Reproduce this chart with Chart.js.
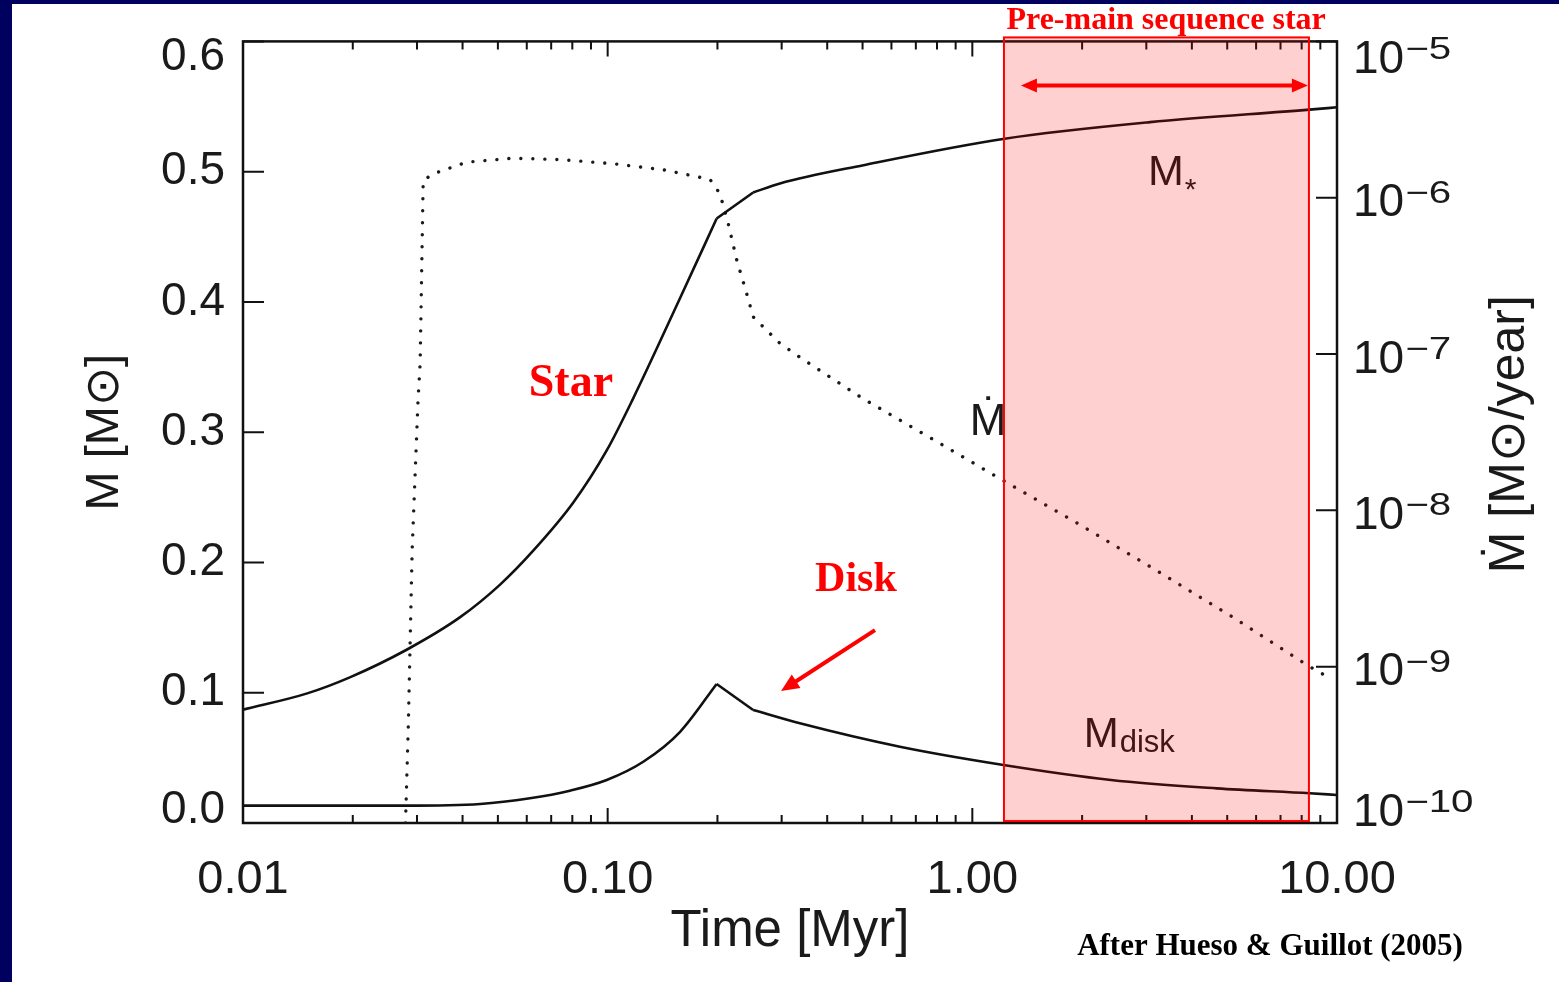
<!DOCTYPE html>
<html>
<head>
<meta charset="utf-8">
<script src="https://cdn.jsdelivr.net/npm/chart.js@4/dist/chart.umd.min.js"></script>
<style>
  html, body { margin: 0; padding: 0; background: #00005e; overflow: hidden; }
  #frame { position: absolute; left: 12px; top: 4px; width: 1547px; height: 978px; background: #fff; }
  canvas { display: block; }
</style>
</head>
<body>
<div id="frame"><canvas id="chart" width="1547" height="978"></canvas></div>
<script>
// ---- data (Hueso & Guillot 2005) ----
const starTime = [0.01, 0.015, 0.0197, 0.0281, 0.0394, 0.0507, 0.0625, 0.0805, 0.0994, 0.1175, 0.158, 0.199, 0.2506, 0.2968, 0.503, 1.226, 3.07, 8.4, 10];
const starMass = [0.087, 0.0995, 0.112, 0.133, 0.158, 0.183, 0.209, 0.246, 0.286, 0.326, 0.403, 0.464, 0.484, 0.491, 0.505, 0.5253, 0.538, 0.5476, 0.5494];

const diskTime = [0.01, 0.0278, 0.0447, 0.0612, 0.0788, 0.0994, 0.1252, 0.158, 0.199, 0.2506, 0.3366, 0.633, 1.217, 2.40, 4.68, 8.42, 10];
const diskMass = [0.0133, 0.0133, 0.0146, 0.019, 0.0248, 0.033, 0.047, 0.070, 0.1067, 0.0867, 0.0765, 0.0585, 0.0445, 0.033, 0.0266, 0.0228, 0.0215];

const rateTime = [0.0279, 0.0284, 0.0291, 0.0302, 0.0306, 0.0312, 0.0332, 0.0411, 0.0551, 0.0755, 0.1036, 0.142, 0.1908, 0.2032, 0.2142, 0.2259, 0.2405, 0.2506, 0.2968, 0.3396, 0.5004, 0.802, 1.21, 1.92, 3.08, 5.24, 8.3, 9.6];
const rateValue = [1e-10, 4.2e-10, 5.6e-9, 5.1e-8, 8.7e-8, 1.29e-6, 1.42e-6, 1.69e-6, 1.79e-6, 1.75e-6, 1.65e-6, 1.51e-6, 1.31e-6, 1.06e-6, 6.8e-7, 4.0e-7, 2.44e-7, 1.73e-7, 1.17e-7, 9.4e-8, 5.2e-8, 2.74e-8, 1.56e-8, 8.4e-9, 4.35e-9, 2.04e-9, 1.02e-9, 8.4e-10];

// the solid curves have sharp kinks at 0.2 and 0.25 Myr (indices into the arrays above)
const starKinks = [11, 12];
const diskKinks = [8, 9];

const xTickValues = [0.01, 0.1, 1, 10];
const xTickLabels = ['0.01', '0.10', '1.00', '10.00'];
const massTickValues = [0, 0.1, 0.2, 0.3, 0.4, 0.5, 0.6];
const massTickLabels = ['0.0', '0.1', '0.2', '0.3', '0.4', '0.5', '0.6'];
const rateTickValues = [1e-10, 1e-9, 1e-8, 1e-7, 1e-6, 1e-5];
const rateTickExponents = ['\u221210', '\u22129', '\u22128', '\u22127', '\u22126', '\u22125'];

// pre-main sequence window (Myr)
const pmsStart = 1.221, pmsEnd = 8.376;

const SANS = '"Liberation Sans", Arial, Helvetica, sans-serif';
const SERIF = '"Liberation Serif", "Times New Roman", serif';
const INK = '#1a1a1a';
const RED = '#ff0000';

const toPoints = (xs, ys) => xs.map((x, i) => ({ x, y: ys[i] }));

// split a curve at its kinks: smooth pieces between, straight piece across the kink pair
function curvePieces(label, xs, ys, kinks) {
  const [k0, k1] = kinks;
  const base = { yAxisID: 'y', borderColor: '#111', borderWidth: 2.6, pointRadius: 0, fill: false, label };
  return [
    { ...base, data: toPoints(xs.slice(0, k0 + 1), ys.slice(0, k0 + 1)), cubicInterpolationMode: 'monotone' },
    { ...base, data: toPoints(xs.slice(k0, k1 + 1), ys.slice(k0, k1 + 1)), tension: 0 },
    { ...base, data: toPoints(xs.slice(k1), ys.slice(k1)), cubicInterpolationMode: 'monotone' }
  ];
}

function arrowHead(ctx, x1, y1, x2, y2, len, half) {
  const ang = Math.atan2(y2 - y1, x2 - x1);
  ctx.beginPath();
  ctx.moveTo(x2, y2);
  ctx.lineTo(x2 - len * Math.cos(ang) + half * Math.sin(ang), y2 - len * Math.sin(ang) - half * Math.cos(ang));
  ctx.lineTo(x2 - len * Math.cos(ang) - half * Math.sin(ang), y2 - len * Math.sin(ang) + half * Math.cos(ang));
  ctx.closePath();
  ctx.fill();
}

// frame + inward ticks, IDL style
const axisFrame = {
  id: 'axisFrame',
  beforeDatasetsDraw(chart) {
    const { ctx, chartArea: a, scales } = chart;
    ctx.save();
    ctx.strokeStyle = '#111';
    ctx.lineWidth = 2.5;
    ctx.strokeRect(a.left, a.top, a.right - a.left, a.bottom - a.top);
    ctx.lineWidth = 2;
    ctx.beginPath();
    [0.01, 0.1, 1].forEach(d => {
      for (let k = 1; k <= 10; k++) {
        const px = scales.x.getPixelForValue(d * k);
        const len = (k === 1 || k === 10) ? 15 : 8;
        ctx.moveTo(px, a.bottom); ctx.lineTo(px, a.bottom - len);
        ctx.moveTo(px, a.top); ctx.lineTo(px, a.top + len);
      }
    });
    massTickValues.forEach(v => {
      const py = scales.y.getPixelForValue(v);
      ctx.moveTo(a.left, py); ctx.lineTo(a.left + 21, py);
    });
    rateTickValues.forEach(v => {
      const py = scales.y2.getPixelForValue(v);
      ctx.moveTo(a.right, py); ctx.lineTo(a.right - 21, py);
    });
    ctx.stroke();

    // y tick labels (kept inside the axis range like the original)
    ctx.fillStyle = INK;
    ctx.textBaseline = 'middle';
    ctx.font = `46px ${SANS}`;
    ctx.textAlign = 'right';
    massTickValues.forEach((v, i) => {
      const py = Math.min(Math.max(scales.y.getPixelForValue(v), a.top + 16), a.bottom - 13);
      ctx.fillText(massTickLabels[i], a.left - 18, py);
    });
    ctx.textAlign = 'left';
    ctx.textBaseline = 'alphabetic';
    rateTickValues.forEach((v, i) => {
      const yc = Math.min(Math.max(scales.y2.getPixelForValue(v) + 2, a.top + 15), a.bottom - 14);
      const xb = a.right + 16;
      ctx.font = `46px ${SANS}`;
      ctx.fillText('10', xb, yc + 16.5);
      const w = ctx.measureText('10').width;
      ctx.save();
      ctx.translate(xb + w + 1, yc + 3);
      ctx.scale(1.3, 1);
      ctx.font = `31px ${SANS}`;
      ctx.fillText(rateTickExponents[i], 0, 0);
      ctx.restore();
    });

    // right axis title, reading bottom to top
    ctx.save();
    ctx.translate(1498, (a.top + a.bottom) / 2 + 2);
    ctx.rotate(-Math.PI / 2);
    ctx.font = `50px ${SANS}`;
    ctx.textAlign = 'center';
    ctx.textBaseline = 'middle';
    ctx.fillText('\u1E40 [M\u2299/year]', 0, 0);
    ctx.restore();
    ctx.restore();
  },
  afterDatasetsDraw(chart) {
    const { ctx, chartArea: a, scales } = chart;
    const X = v => scales.x.getPixelForValue(v);
    const Y = v => scales.y.getPixelForValue(v);
    ctx.save();
    // curve labels
    ctx.fillStyle = INK;
    ctx.textBaseline = 'alphabetic';
    ctx.textAlign = 'left';
    ctx.font = `43px ${SANS}`;
    let x0 = X(3.03), yb = Y(0.4896);
    ctx.fillText('M', x0, yb);
    let w = ctx.measureText('M').width;
    ctx.font = `30px ${SANS}`;
    ctx.fillText('*', x0 + w + 1, yb + 14);

    ctx.font = `44px ${SANS}`;
    ctx.textAlign = 'center';
    ctx.fillText('\u1E40', X(1.104), Y(0.298));

    ctx.textAlign = 'left';
    x0 = X(2.02); yb = Y(0.0583);
    ctx.font = `42px ${SANS}`;
    ctx.fillText('M', x0, yb);
    w = ctx.measureText('M').width;
    ctx.font = `31px ${SANS}`;
    ctx.fillText('disk', x0 + w + 1, yb + 5);

    // pre-main sequence window
    const bx0 = X(pmsStart), bx1 = X(pmsEnd);
    const by0 = a.top - 4, by1 = Y(0.0015);
    ctx.fillStyle = 'rgba(255,0,0,0.185)';
    ctx.fillRect(bx0, by0, bx1 - bx0, by1 - by0);
    ctx.strokeStyle = RED;
    ctx.lineWidth = 2;
    ctx.strokeRect(bx0, by0, bx1 - bx0, by1 - by0);

    // red annotations
    ctx.fillStyle = RED;
    ctx.strokeStyle = RED;
    ctx.textAlign = 'center';
    ctx.textBaseline = 'middle';
    ctx.font = `bold 32px ${SERIF}`;
    ctx.fillText('Pre-main sequence star', X(3.40), a.top - 21);

    const ay = Y(0.5662), ax0 = X(1.359), ax1 = X(8.32);
    ctx.lineWidth = 4;
    ctx.beginPath(); ctx.moveTo(ax0 + 10, ay); ctx.lineTo(ax1 - 10, ay); ctx.stroke();
    arrowHead(ctx, ax1, ay, ax0, ay, 16, 7);
    arrowHead(ctx, ax0, ay, ax1, ay, 16, 7);

    ctx.font = `bold 46px ${SERIF}`;
    ctx.fillText('Star', X(0.0793), Y(0.337));
    ctx.font = `bold 42px ${SERIF}`;
    ctx.fillText('Disk', X(0.4796), Y(0.1865));

    const dx0 = X(0.5408), dy0 = Y(0.1481), dx1 = X(0.2988), dy1 = Y(0.1013);
    ctx.beginPath(); ctx.moveTo(dx0, dy0);
    ctx.lineTo(dx1 + (dx0 - dx1) * 0.12, dy1 + (dy0 - dy1) * 0.12); ctx.stroke();
    arrowHead(ctx, dx0, dy0, dx1, dy1, 18, 8);

    ctx.fillStyle = '#000';
    ctx.font = `bold 31px ${SERIF}`;
    ctx.fillText('After Hueso & Guillot (2005)', 1258, 943);
    ctx.restore();
  }
};

const ctx = document.getElementById('chart').getContext('2d');
new Chart(ctx, {
  type: 'line',
  data: {
    datasets: [
      ...curvePieces('M*', starTime, starMass, starKinks),
      ...curvePieces('Mdisk', diskTime, diskMass, diskKinks),
      { label: 'Mdot', data: toPoints(rateTime, rateValue), yAxisID: 'y2', borderColor: '#1a1a1a', borderWidth: 3.4, borderDash: [0.01, 12], borderCapStyle: 'round', pointRadius: 0, tension: 0, fill: false }
    ]
  },
  options: {
    responsive: false,
    animation: false,
    layout: { padding: { top: 37.4, left: 0, right: 0, bottom: 0 } },
    plugins: { legend: { display: false }, tooltip: { enabled: false } },
    scales: {
      x: {
        type: 'logarithmic', position: 'bottom', min: 0.01, max: 10,
        afterBuildTicks: s => { s.ticks = xTickValues.map(v => ({ value: v })); },
        afterFit: s => { s.height = 159; },
        grid: { display: false, drawTicks: false },
        border: { display: false },
        ticks: { autoSkip: false, maxRotation: 0, padding: 29, color: INK, font: { family: SANS, size: 47 }, callback: (v, i) => xTickLabels[i] },
        title: { display: true, text: 'Time [Myr]', color: INK, font: { family: SANS, size: 51 }, padding: { top: 0, bottom: 19 } }
      },
      y: {
        type: 'linear', position: 'left', min: 0, max: 0.6,
        afterFit: s => { s.width = 231; },
        grid: { display: false, drawTicks: false },
        border: { display: false },
        ticks: { display: false },
        title: { display: true, text: 'M [M\u2299]', color: INK, font: { family: SANS, size: 47 }, padding: { top: 65, bottom: 0 } }
      },
      y2: {
        type: 'logarithmic', position: 'right', min: 1e-10, max: 1e-5,
        afterFit: s => { s.width = 222; },
        grid: { display: false, drawTicks: false },
        border: { display: false },
        ticks: { display: false }
      }
    }
  },
  plugins: [axisFrame]
});
</script>
</body>
</html>
